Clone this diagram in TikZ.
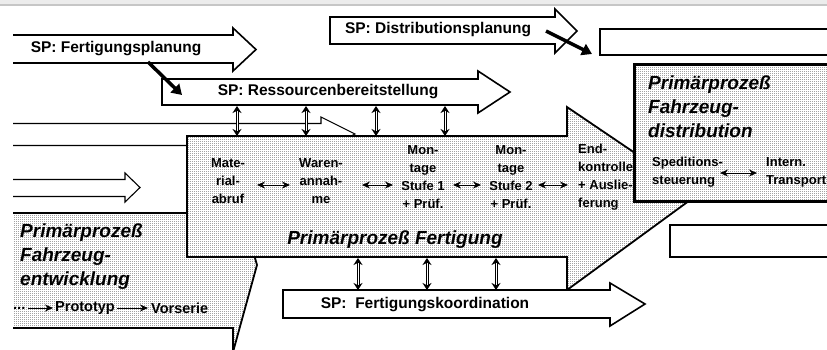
\documentclass[tikz,border=0pt]{standalone}
\usepackage{fontspec}
\setmainfont{Liberation Sans}
\usetikzlibrary{arrows.meta,patterns.meta}

% fine raster used for the process shapes
\pgfdeclarepattern{
  name=finedots, type=uncolored,
  bottom left={\pgfpoint{0pt}{0pt}}, top right={\pgfpoint{2pt}{2pt}},
  tile size={\pgfpoint{2pt}{2pt}},
  code={\pgfpathrectangle{\pgfpointorigin}{\pgfpoint{1pt}{1pt}}\pgfusepath{fill}}}

\begin{document}
\begin{tikzpicture}[x=1pt,y=-1pt,
  sparrow/.style={draw, line width=1.6pt, fill=white, line join=miter},
  thinarrow/.style={draw, line width=1.1pt, fill=white, line join=miter},
  procfill/.style={preaction={fill=white}, pattern=finedots, pattern color=black!85},
  procline/.style={draw, line width=1.8pt, line join=miter},
  boxline/.style={draw, line width=1.6pt, fill=white},
  splabel/.style={font=\bfseries\fontsize{15.5}{18}\selectfont, inner sep=0pt},
  steptext/.style={font=\bfseries\fontsize{13}{18}\selectfont, inner sep=0pt, align=center},
  bigtext/.style={font=\bfseries\itshape\fontsize{19}{24}\selectfont, inner sep=0pt, align=left},
  smalltext/.style={font=\bfseries\fontsize{14.5}{18}\selectfont, inner sep=0pt},
  vdbl/.style={line width=1pt, double=white, double distance=1pt,
    {Stealth[length=7pt,width=9pt]}-{Stealth[length=7pt,width=9pt]}},
  hdbl/.style={line width=1pt,
    {Stealth[length=8pt,width=7pt]}-{Stealth[length=8pt,width=7pt]}},
  fatarrow/.style={line width=3.5pt, -{Triangle[length=10pt,width=12pt]}},
  onearrow/.style={line width=1pt, -{Stealth[length=8pt,width=7pt]}}]

\useasboundingbox (0,0) rectangle (827,349);
\clip (0,0) rectangle (827,349);

% window band along the top edge
\fill[gray!15] (0,0) rectangle (827,5);
\draw[gray!45, line width=1.5pt] (0,5) -- (827,5);

% thin arrows entering from the left
\draw[thinarrow] (13,123.5) -- (321,123.5) -- (321,117) -- (355,134) -- (321,151) -- (321,145.5) -- (13,145.5);
\draw[thinarrow] (13,179.5) -- (125,179.5) -- (125,173) -- (140,187.5) -- (125,202) -- (125,196.5) -- (13,196.5);

% primary process: vehicle development
\path[procfill] (13,213) -- (233,213) -- (233,180) -- (257,265) -- (233,352) -- (233,328) -- (13,328) -- cycle;
\draw[procline] (13,213) -- (233,213) -- (233,180) -- (257,265) -- (233,352) -- (233,328) -- (13,328);

% primary process: production
\draw[procline, procfill] (187,136) -- (567,136) -- (567,107) -- (697,195) -- (567,290) -- (567,257) -- (187,257) -- cycle;

% support process arrows
\draw[sparrow] (13,35) -- (233,35) -- (233,28) -- (256,49.5) -- (233,71) -- (233,63) -- (13,63);
\draw[sparrow] (162,79) -- (478,79) -- (478,71) -- (510,92) -- (478,113) -- (478,105) -- (162,105) -- cycle;
\draw[sparrow] (330,17) -- (555,17) -- (555,9) -- (577,31) -- (555,53) -- (555,44) -- (330,44) -- cycle;
\draw[sparrow] (283,290) -- (610,290) -- (610,283) -- (645,304) -- (610,326) -- (610,318) -- (283,318) -- cycle;

\node[splabel] (fp) at (116,49) {SP: Fertigungsplanung};
\node[splabel] (rb) at (328,92) {SP: Ressourcenbereitstellung};
\node[splabel] (dp) at (438,30) {SP: Distributionsplanung};
\node[splabel] (fk) at (425,305) {SP:\ \ Fertigungskoordination};

% empty boxes on the right
\draw[boxline] (600,29) rectangle (835,55);
\draw[boxline] (670,225) rectangle (835,257);

% primary process: vehicle distribution
\draw[line width=3pt, procfill] (634,64) rectangle (835,201);

% production steps
\node[steptext] (mat) at (228,181) {Mate-\\rial-\\abruf};
\node[steptext] (war) at (321,181) {Waren-\\annah-\\me};
\node[steptext] (mo1) at (423,177) {Mon-\\tage\\Stufe 1\\+ Prüf.};
\node[steptext] (mo2) at (511,177) {Mon-\\tage\\Stufe 2\\+ Prüf.};
\node[steptext, align=left, anchor=west] (end) at (578,177) {End-\\kontrolle\\+ Auslie-\\ferung};
\node[bigtext] (pf) at (395,240) {Primärprozeß Fertigung};

\coordinate (h1a) at (257,185); \coordinate (h1b) at (290,185);
\coordinate (h2a) at (362,185); \coordinate (h2b) at (393,185);
\coordinate (h3a) at (453,185); \coordinate (h3b) at (481,185);
\coordinate (h4a) at (538,185); \coordinate (h4b) at (568,185);
\draw[hdbl] (h1a) -- (h1b);
\draw[hdbl] (h2a) -- (h2b);
\draw[hdbl] (h3a) -- (h3b);
\draw[hdbl] (h4a) -- (h4b);

% distribution texts (drawn over the production arrow tip)
\node[bigtext, anchor=west] (pd) at (648,107) {Primärprozeß\\Fahrzeug-\\distribution};
\node[steptext, align=left, anchor=west] (sped) at (652,172) {Speditions-\\steuerung};
\node[steptext, align=left, anchor=west] (itr) at (766,172) {Intern.\\Transport};
\coordinate (d1a) at (720,173); \coordinate (d1b) at (757,173);
\draw[hdbl] (d1a) -- (d1b);

% development texts
\node[bigtext, anchor=west] (pe) at (20,257) {Primärprozeß\\Fahrzeug-\\entwicklung};
\node[smalltext, anchor=west] (dots) at (13,308) {...};
\node[smalltext, anchor=west] (proto) at (55,308) {Prototyp};
\node[smalltext, anchor=west] (vors) at (151,308) {Vorserie};
\draw[onearrow, shorten <=3pt, shorten >=2pt] (dots) -- (proto);
\draw[onearrow, shorten <=2pt, shorten >=3pt] (proto) -- (vors);

% links between support and primary processes
\foreach \x [count=\i] in {237,306,376,445} {
  \coordinate (rs\i) at (\x,106);
  \coordinate (pr\i) at (\x,136);
  \draw[vdbl] (rs\i) -- (pr\i);
}
\foreach \x [count=\i] in {358,427,496} {
  \coordinate (pb\i) at (\x,258);
  \coordinate (fk\i) at (\x,290);
  \draw[vdbl] (pb\i) -- (fk\i);
}

% planning hand-offs
\coordinate (fpa) at (148,62); \coordinate (fpb) at (182,95);
\draw[fatarrow] (fpa) -- (fpb);
\coordinate (dpa) at (546,31); \coordinate (dpb) at (592,54);
\draw[fatarrow] (dpa) -- (dpb);

\end{tikzpicture}
\end{document}
